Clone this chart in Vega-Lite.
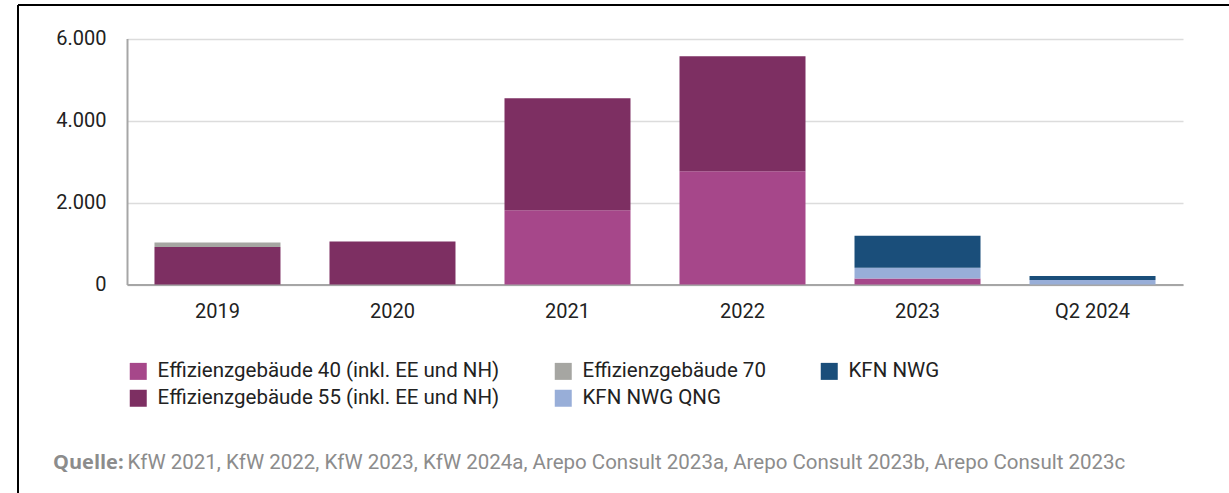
{
  "$schema": "https://vega.github.io/schema/vega-lite/v6.json",
  "width": 1211,
  "height": 488,
  "autosize": {"type": "none"},
  "padding": {"left": 18, "top": 5, "right": 0, "bottom": 0},
  "background": "white",
  "title": {
    "text": "Quelle:",
    "orient": "bottom",
    "anchor": "start",
    "frame": "group",
    "offset": -40,
    "dx": 35,
    "font": "Open Sans",
    "fontSize": 20,
    "fontWeight": "bold",
    "color": "#8c8c8c"
  },
  "data": {
    "values": [
      {"Jahr": "2019", "Typ": "Effizienzgebäude 55 (inkl. EE und NH)", "Wert": 912},
      {"Jahr": "2019", "Typ": "Effizienzgebäude 70", "Wert": 114},
      {"Jahr": "2020", "Typ": "Effizienzgebäude 55 (inkl. EE und NH)", "Wert": 1051},
      {"Jahr": "2021", "Typ": "Effizienzgebäude 40 (inkl. EE und NH)", "Wert": 1814},
      {"Jahr": "2021", "Typ": "Effizienzgebäude 55 (inkl. EE und NH)", "Wert": 2730},
      {"Jahr": "2022", "Typ": "Effizienzgebäude 40 (inkl. EE und NH)", "Wert": 2765},
      {"Jahr": "2022", "Typ": "Effizienzgebäude 55 (inkl. EE und NH)", "Wert": 2803},
      {"Jahr": "2023", "Typ": "Effizienzgebäude 40 (inkl. EE und NH)", "Wert": 149},
      {"Jahr": "2023", "Typ": "KFN NWG QNG", "Wert": 258},
      {"Jahr": "2023", "Typ": "KFN NWG", "Wert": 780},
      {"Jahr": "Q2 2024", "Typ": "KFN NWG QNG", "Wert": 107},
      {"Jahr": "Q2 2024", "Typ": "KFN NWG", "Wert": 98}
    ]
  },
  "transform": [
    {"calculate": "indexof(['Effizienzgebäude 40 (inkl. EE und NH)', 'Effizienzgebäude 55 (inkl. EE und NH)', 'Effizienzgebäude 70', 'KFN NWG QNG', 'KFN NWG'], datum.Typ)", "as": "stapel"}
  ],
  "mark": {"type": "bar"},
  "encoding": {
    "x": {
      "field": "Jahr",
      "type": "nominal",
      "sort": null,
      "scale": {"range": [109, 1165], "paddingInner": 0.28, "paddingOuter": 0.157},
      "axis": {
        "orient": "bottom",
        "offset": -208.5,
        "ticks": false,
        "labelAngle": 0,
        "labelPadding": 17,
        "labelFont": "Roboto",
        "labelFontSize": 20,
        "labelColor": "#222222",
        "domainColor": "#a6a6a6",
        "domainWidth": 2,
        "grid": false,
        "title": "KfW 2021, KfW 2022, KfW 2023, KfW 2024a, Arepo Consult 2023a, Arepo Consult 2023b, Arepo Consult 2023c",
        "titleFont": "Roboto",
        "titleFontSize": 20.5,
        "titleFontWeight": "normal",
        "titleColor": "#8c8c8c",
        "titleAlign": "left",
        "titleAnchor": "start",
        "titleBaseline": "top",
        "titleX": 109,
        "titleY": 168
      }
    },
    "y": {
      "field": "Wert",
      "type": "quantitative",
      "stack": "zero",
      "scale": {"domain": [0, 6000], "range": [279.5, 33.5], "nice": false},
      "axis": {
        "orient": "left",
        "offset": -109,
        "values": [0, 2000, 4000, 6000],
        "ticks": false,
        "labelPadding": 21,
        "labelFont": "Roboto",
        "labelFontSize": 20,
        "labelColor": "#222222",
        "domainColor": "#a6a6a6",
        "domainWidth": 2,
        "grid": true,
        "gridColor": "#dcdcdc",
        "gridWidth": 1.5,
        "title": null,
        "labelExpr": "replace(format(datum.value, ','), ',', '.')"
      }
    },
    "color": {
      "field": "Typ",
      "type": "nominal",
      "scale": {
        "domain": ["Effizienzgebäude 40 (inkl. EE und NH)", "Effizienzgebäude 55 (inkl. EE und NH)", "Effizienzgebäude 70", "KFN NWG QNG", "KFN NWG"],
        "range": ["#a6478a", "#7d2f62", "#a6a6a2", "#98aed8", "#1a4e7a"]
      },
      "legend": {
        "orient": "none",
        "legendX": 110,
        "legendY": 356,
        "columns": 3,
        "columnPadding": 53,
        "rowPadding": 6,
        "symbolType": "square",
        "symbolSize": 289,
        "symbolStrokeWidth": 0,
        "symbolOpacity": 1,
        "labelFont": "Roboto",
        "labelFontSize": 20.5,
        "labelColor": "#222222",
        "labelOffset": 9,
        "labelLimit": 600,
        "title": null,
        "padding": 0
      }
    },
    "order": {"field": "stapel", "type": "quantitative"}
  },
  "config": {
    "font": "Roboto",
    "view": {"stroke": "black", "strokeWidth": 2, "strokeDash": [1211, 1699, 488, 0], "fill": "white"}
  }
}
